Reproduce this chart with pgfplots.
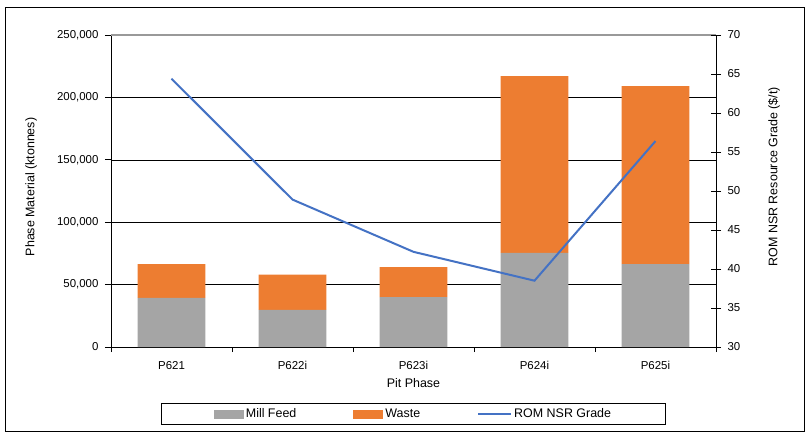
\documentclass[border=0pt]{standalone}
\usepackage{fontspec}
\setmainfont{Liberation Sans}
\usepackage{pgfplots}
\pgfplotsset{compat=1.18}
\definecolor{millgray}{HTML}{A5A5A5}
\definecolor{wasteor}{HTML}{ED7D31}
\definecolor{romblue}{HTML}{4472C4}
\begin{document}
\begin{tikzpicture}[font=\fontsize{11.5}{13}\selectfont]
\useasboundingbox (-111bp,-89bp) rectangle (698bp,347bp);
\draw[black, line width=0.8pt] (-106bp,-84bp) rectangle (693bp,340bp);
\begin{axis}[
  at={(0,0)}, anchor=south west, scale only axis,
  width=605bp, height=312bp,
  xmin=-0.5, xmax=4.5, ymin=0, ymax=250000,
  axis lines*=left, axis line style={line width=0.8pt},
  ybar stacked, bar width=0.56,
  xtick={0,...,4}, xticklabels={P621,P622i,P623i,P624i,P625i},
  xticklabel style={yshift=-5bp},
  yticklabel style={xshift=-3bp},
  major x tick style={draw=none},
  minor xtick={-0.5,0.5,...,4.5},
  tick align=outside, major tick length=6bp, minor tick length=5bp,
  tick style={black, line width=0.8pt},
  ytick={0,50000,...,250000},
  scaled y ticks=false,
  /pgf/number format/fixed, /pgf/number format/1000 sep={,},
  /pgf/number format/assume math mode=true,
  ymajorgrids, grid style={black, line width=0.6pt},
  ylabel={Phase Material (ktonnes)}, xlabel={Pit Phase},
  label style={font=\fontsize{12.5}{14}\selectfont},
  ylabel style={at={(axis description cs:-0.132,0.513)}, anchor=center},
  xlabel style={at={(axis description cs:0.5,0)}, yshift=-36bp, anchor=center},
  legend columns=3,
  legend style={at={(0.5,-0.215)}, anchor=center, draw=black, line width=0.8pt,
    inner xsep=52bp, inner ysep=3bp, font=\fontsize{12.5}{14}\selectfont,
    nodes={inner xsep=2bp},
    /tikz/every even column/.append style={column sep=55bp}},
]
\addplot+[fill=millgray, draw=none, area legend,
  legend image code/.code={\fill[millgray] (0bp,-4.5bp) rectangle (30bp,4.5bp);}]
  coordinates {(0,39300) (1,29700) (2,40000) (3,75500) (4,66500)};
\addlegendentry{Mill Feed}
\addplot+[fill=wasteor, draw=none, area legend,
  legend image code/.code={\fill[wasteor] (0bp,-4.5bp) rectangle (30bp,4.5bp);}]
  coordinates {(0,27200) (1,28300) (2,24000) (3,141500) (4,142500)};
\addlegendentry{Waste}
\addlegendimage{legend image code/.code={\draw[romblue, line width=2bp] (0bp,0bp) -- (33bp,0bp);}}
\addlegendentry{ROM NSR Grade}
\draw[gray!80, line width=1.2pt] (rel axis cs:0,1) -- (rel axis cs:1,1);
\end{axis}
\begin{axis}[
  at={(0,0)}, anchor=south west, scale only axis,
  width=605bp, height=312bp,
  xmin=-0.5, xmax=4.5, ymin=30, ymax=70,
  axis x line=none, axis y line*=right, axis line style={line width=0.8pt},
  ytick={30,35,...,70},
  yticklabel style={xshift=3bp},
  tick align=center, major tick length=10bp,
  tick style={black, line width=0.8pt},
  /pgf/number format/assume math mode=true,
  ylabel={ROM NSR Resource Grade (\$/t)},
  label style={font=\fontsize{12.5}{14}\selectfont},
  ylabel style={at={(axis description cs:1.096,0.546)}, anchor=center},
]
\addplot[romblue, line width=2bp] coordinates {(0,64.4) (1,48.9) (2,42.2) (3,38.5) (4,56.4)};
\end{axis}
\end{tikzpicture}
\end{document}
